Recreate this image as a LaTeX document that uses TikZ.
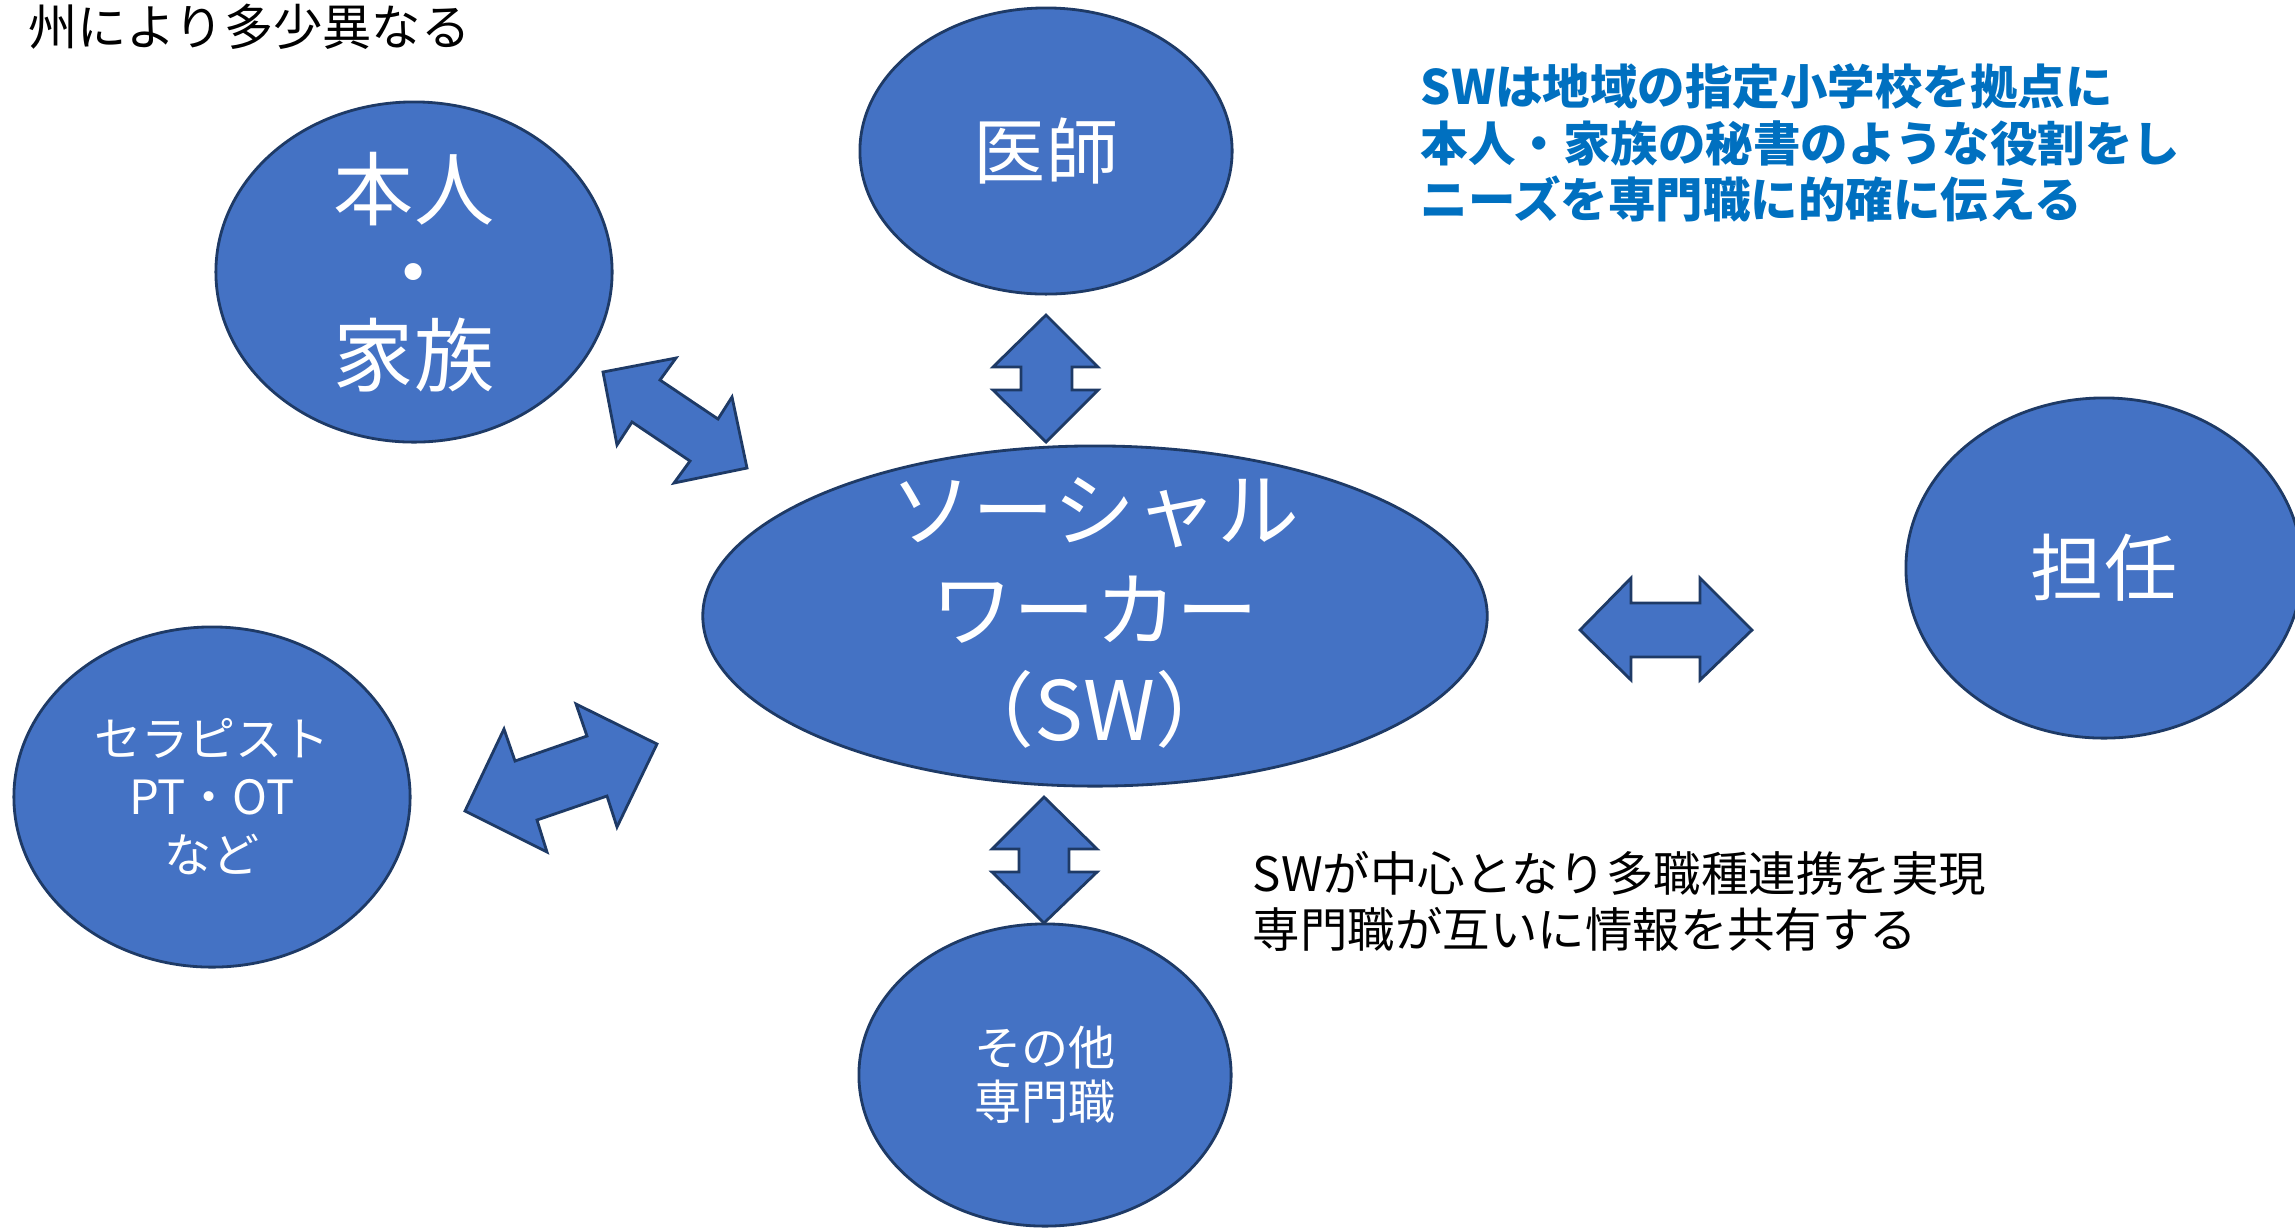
\documentclass[tikz,border=0pt]{standalone}
\usepackage{fontspec}
\setmainfont{Noto Sans CJK JP}
\usetikzlibrary{shapes.geometric}
\definecolor{fillblue}{HTML}{4472C4}
\definecolor{edgeblue}{HTML}{1E3A66}
\definecolor{textblue}{HTML}{0070C0}
\tikzset{
  bubble/.style={ellipse, draw=edgeblue, fill=fillblue, line width=0.8pt, text=white, align=center, inner sep=0pt},
  blockarrow/.style={draw=edgeblue, fill=fillblue, line width=0.8pt, line join=miter},
  plaintext/.style={inner sep=0pt, align=left}
}
\begin{document}
\begin{tikzpicture}[x=0.01cm, y=-0.01cm]
\useasboundingbox (0,0) rectangle (2295,1229);

% ellipses
\node[bubble, minimum width=3.96cm, minimum height=3.40cm, font=\fontsize{22.8pt}{23.6pt}\selectfont] (family) at (414,272) {本人\\・\\家族};
\node[bubble, minimum width=3.72cm, minimum height=2.86cm, font=\fontsize{20.5pt}{24pt}\selectfont] (doctor) at (1046,151) {医師};
\node[bubble, minimum width=7.84cm, minimum height=3.40cm, font=\fontsize{23.3pt}{28.5pt}\selectfont] (sw) at (1095,616) {};
\node[text=white, align=center, inner sep=0pt, font=\fontsize{23.3pt}{28.5pt}\selectfont] (swtext) at (1095,613) {ソーシャル\\ワーカー\\（SW）};
\node[bubble, minimum width=3.96cm, minimum height=3.40cm, font=\fontsize{20.8pt}{24pt}\selectfont] (teacher) at (2104,568) {担任};
\node[bubble, minimum width=3.96cm, minimum height=3.40cm, font=\fontsize{13.4pt}{16.5pt}\selectfont] (therapist) at (212,797) {セラピスト\\PT・OT\\など};
\node[bubble, minimum width=3.72cm, minimum height=3.02cm, font=\fontsize{13.4pt}{15.4pt}\selectfont] (others) at (1045,1075) {その他\\専門職};

% block arrows
\draw[blockarrow] (603,372) -- (676,358) -- (660,380) -- (718,419) -- (732,397) -- (747,468) -- (674,483) -- (690,461) -- (632,422) -- (617,445) -- cycle;
\draw[blockarrow] (1046,315) -- (1098,367) -- (1072,367) -- (1072,390) -- (1098,390) -- (1046,442) -- (993,390) -- (1021,390) -- (1021,367) -- (993,367) -- cycle;
\draw[blockarrow] (1580,630) -- (1631,578) -- (1631,603) -- (1700,603) -- (1700,578) -- (1752,630) -- (1700,680) -- (1700,657) -- (1631,657) -- (1631,680) -- cycle;
\draw[blockarrow] (465,811) -- (504,729) -- (515,761) -- (587,736) -- (576,704) -- (657,744) -- (617,827) -- (607,796) -- (537,820) -- (547,852) -- cycle;
\draw[blockarrow] (1044,797) -- (1097,849) -- (1069,849) -- (1069,872) -- (1097,872) -- (1044,923) -- (992,872) -- (1019,872) -- (1019,849) -- (992,849) -- cycle;

% texts
\node[plaintext, anchor=east, font=\fontsize{14pt}{17pt}\selectfont] (topnote) at (471,27) {州により多少異なる};
\node[plaintext, anchor=west, text=textblue, font=\bfseries\fontsize{13.5pt}{16.1pt}\selectfont] (rolenote) at (1420,143) {SWは地域の指定小学校を拠点に\\本人・家族の秘書のような役割をし\\ニーズを専門職に的確に伝える};
\node[plaintext, anchor=west, font=\fontsize{13.5pt}{15.9pt}\selectfont] (centernote) at (1252,901) {SWが中心となり多職種連携を実現\\専門職が互いに情報を共有する};
\end{tikzpicture}
\end{document}
